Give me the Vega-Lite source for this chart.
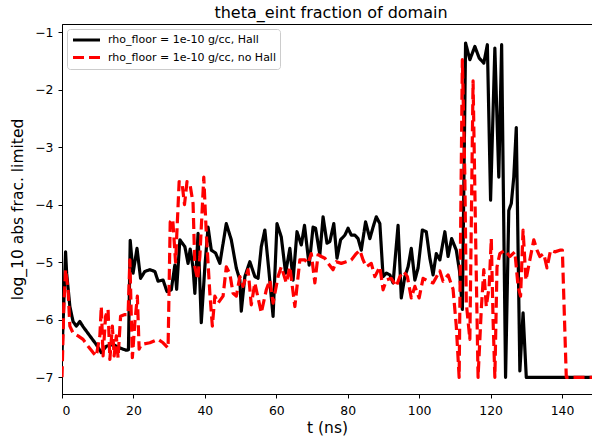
{
  "$schema": "https://vega.github.io/schema/vega-lite/v6.json",
  "width": 530,
  "height": 370,
  "autosize": {"type": "none"},
  "padding": {"left": 62, "top": 24, "right": 0, "bottom": 49},
  "background": "white",
  "config": {
    "font": "DejaVu Sans",
    "view": {"stroke": "black", "strokeWidth": 1},
    "axis": {"grid": false, "domainColor": "black", "tickColor": "black", "labelColor": "black", "titleColor": "black", "labelFontSize": 12.4, "titleFontSize": 15.5, "titleFontWeight": "normal", "tickSize": 4}
  },
  "title": {"text": "theta_eint fraction of domain", "fontSize": 16, "fontWeight": "normal", "color": "black", "anchor": "middle", "dx": 4, "baseline": "alphabetic", "offset": -10},
  "data": {"values": [
    {"t": 0, "v": -6.6, "s": "rho_floor = 1e-10 g/cc, Hall"},
    {"t": 1.0, "v": -4.82, "s": "rho_floor = 1e-10 g/cc, Hall"},
    {"t": 1.3, "v": -5.19, "s": "rho_floor = 1e-10 g/cc, Hall"},
    {"t": 2.2, "v": -5.77, "s": "rho_floor = 1e-10 g/cc, Hall"},
    {"t": 3.1, "v": -6.03, "s": "rho_floor = 1e-10 g/cc, Hall"},
    {"t": 4.0, "v": -6.11, "s": "rho_floor = 1e-10 g/cc, Hall"},
    {"t": 5.0, "v": -6.03, "s": "rho_floor = 1e-10 g/cc, Hall"},
    {"t": 5.9, "v": -6.12, "s": "rho_floor = 1e-10 g/cc, Hall"},
    {"t": 7.8, "v": -6.28, "s": "rho_floor = 1e-10 g/cc, Hall"},
    {"t": 9.6, "v": -6.43, "s": "rho_floor = 1e-10 g/cc, Hall"},
    {"t": 11.0, "v": -6.57, "s": "rho_floor = 1e-10 g/cc, Hall"},
    {"t": 12.4, "v": -6.46, "s": "rho_floor = 1e-10 g/cc, Hall"},
    {"t": 14.3, "v": -6.43, "s": "rho_floor = 1e-10 g/cc, Hall"},
    {"t": 16.2, "v": -6.49, "s": "rho_floor = 1e-10 g/cc, Hall"},
    {"t": 18.0, "v": -6.53, "s": "rho_floor = 1e-10 g/cc, Hall"},
    {"t": 18.6, "v": -6.52, "s": "rho_floor = 1e-10 g/cc, Hall"},
    {"t": 19.1, "v": -4.62, "s": "rho_floor = 1e-10 g/cc, Hall"},
    {"t": 19.9, "v": -5.19, "s": "rho_floor = 1e-10 g/cc, Hall"},
    {"t": 21.0, "v": -4.76, "s": "rho_floor = 1e-10 g/cc, Hall"},
    {"t": 22.0, "v": -5.28, "s": "rho_floor = 1e-10 g/cc, Hall"},
    {"t": 23.2, "v": -5.16, "s": "rho_floor = 1e-10 g/cc, Hall"},
    {"t": 24.6, "v": -5.13, "s": "rho_floor = 1e-10 g/cc, Hall"},
    {"t": 26.0, "v": -5.16, "s": "rho_floor = 1e-10 g/cc, Hall"},
    {"t": 26.9, "v": -5.33, "s": "rho_floor = 1e-10 g/cc, Hall"},
    {"t": 28.3, "v": -5.31, "s": "rho_floor = 1e-10 g/cc, Hall"},
    {"t": 29.4, "v": -5.51, "s": "rho_floor = 1e-10 g/cc, Hall"},
    {"t": 30.6, "v": -5.48, "s": "rho_floor = 1e-10 g/cc, Hall"},
    {"t": 31.6, "v": -5.05, "s": "rho_floor = 1e-10 g/cc, Hall"},
    {"t": 32.1, "v": -5.47, "s": "rho_floor = 1e-10 g/cc, Hall"},
    {"t": 33.0, "v": -4.61, "s": "rho_floor = 1e-10 g/cc, Hall"},
    {"t": 34.4, "v": -4.73, "s": "rho_floor = 1e-10 g/cc, Hall"},
    {"t": 35.3, "v": -5.02, "s": "rho_floor = 1e-10 g/cc, Hall"},
    {"t": 35.9, "v": -4.77, "s": "rho_floor = 1e-10 g/cc, Hall"},
    {"t": 36.7, "v": -5.1, "s": "rho_floor = 1e-10 g/cc, Hall"},
    {"t": 37.2, "v": -5.54, "s": "rho_floor = 1e-10 g/cc, Hall"},
    {"t": 38.1, "v": -4.5, "s": "rho_floor = 1e-10 g/cc, Hall"},
    {"t": 39.0, "v": -6.05, "s": "rho_floor = 1e-10 g/cc, Hall"},
    {"t": 40.0, "v": -5.08, "s": "rho_floor = 1e-10 g/cc, Hall"},
    {"t": 40.9, "v": -4.39, "s": "rho_floor = 1e-10 g/cc, Hall"},
    {"t": 41.8, "v": -4.79, "s": "rho_floor = 1e-10 g/cc, Hall"},
    {"t": 43.0, "v": -4.84, "s": "rho_floor = 1e-10 g/cc, Hall"},
    {"t": 44.2, "v": -5.02, "s": "rho_floor = 1e-10 g/cc, Hall"},
    {"t": 46.0, "v": -4.33, "s": "rho_floor = 1e-10 g/cc, Hall"},
    {"t": 47.4, "v": -4.61, "s": "rho_floor = 1e-10 g/cc, Hall"},
    {"t": 48.8, "v": -5.1, "s": "rho_floor = 1e-10 g/cc, Hall"},
    {"t": 49.8, "v": -5.31, "s": "rho_floor = 1e-10 g/cc, Hall"},
    {"t": 50.2, "v": -5.85, "s": "rho_floor = 1e-10 g/cc, Hall"},
    {"t": 51.2, "v": -5.25, "s": "rho_floor = 1e-10 g/cc, Hall"},
    {"t": 52.6, "v": -4.99, "s": "rho_floor = 1e-10 g/cc, Hall"},
    {"t": 54.0, "v": -5.25, "s": "rho_floor = 1e-10 g/cc, Hall"},
    {"t": 54.9, "v": -5.28, "s": "rho_floor = 1e-10 g/cc, Hall"},
    {"t": 55.8, "v": -4.73, "s": "rho_floor = 1e-10 g/cc, Hall"},
    {"t": 56.8, "v": -4.44, "s": "rho_floor = 1e-10 g/cc, Hall"},
    {"t": 57.9, "v": -5.13, "s": "rho_floor = 1e-10 g/cc, Hall"},
    {"t": 59.1, "v": -5.94, "s": "rho_floor = 1e-10 g/cc, Hall"},
    {"t": 60.2, "v": -4.33, "s": "rho_floor = 1e-10 g/cc, Hall"},
    {"t": 61.4, "v": -4.56, "s": "rho_floor = 1e-10 g/cc, Hall"},
    {"t": 62.6, "v": -5.19, "s": "rho_floor = 1e-10 g/cc, Hall"},
    {"t": 63.8, "v": -4.76, "s": "rho_floor = 1e-10 g/cc, Hall"},
    {"t": 64.7, "v": -5.31, "s": "rho_floor = 1e-10 g/cc, Hall"},
    {"t": 65.8, "v": -4.47, "s": "rho_floor = 1e-10 g/cc, Hall"},
    {"t": 67.0, "v": -4.7, "s": "rho_floor = 1e-10 g/cc, Hall"},
    {"t": 67.9, "v": -4.36, "s": "rho_floor = 1e-10 g/cc, Hall"},
    {"t": 69.2, "v": -5.05, "s": "rho_floor = 1e-10 g/cc, Hall"},
    {"t": 70.3, "v": -4.39, "s": "rho_floor = 1e-10 g/cc, Hall"},
    {"t": 71.0, "v": -4.41, "s": "rho_floor = 1e-10 g/cc, Hall"},
    {"t": 72.2, "v": -4.87, "s": "rho_floor = 1e-10 g/cc, Hall"},
    {"t": 73.1, "v": -4.21, "s": "rho_floor = 1e-10 g/cc, Hall"},
    {"t": 74.2, "v": -4.67, "s": "rho_floor = 1e-10 g/cc, Hall"},
    {"t": 75.0, "v": -4.64, "s": "rho_floor = 1e-10 g/cc, Hall"},
    {"t": 76.1, "v": -4.33, "s": "rho_floor = 1e-10 g/cc, Hall"},
    {"t": 77.0, "v": -4.93, "s": "rho_floor = 1e-10 g/cc, Hall"},
    {"t": 78.0, "v": -4.61, "s": "rho_floor = 1e-10 g/cc, Hall"},
    {"t": 79.2, "v": -4.53, "s": "rho_floor = 1e-10 g/cc, Hall"},
    {"t": 80.1, "v": -4.41, "s": "rho_floor = 1e-10 g/cc, Hall"},
    {"t": 81.0, "v": -4.53, "s": "rho_floor = 1e-10 g/cc, Hall"},
    {"t": 82.0, "v": -4.53, "s": "rho_floor = 1e-10 g/cc, Hall"},
    {"t": 82.9, "v": -4.59, "s": "rho_floor = 1e-10 g/cc, Hall"},
    {"t": 83.8, "v": -4.79, "s": "rho_floor = 1e-10 g/cc, Hall"},
    {"t": 85.0, "v": -4.3, "s": "rho_floor = 1e-10 g/cc, Hall"},
    {"t": 86.2, "v": -4.59, "s": "rho_floor = 1e-10 g/cc, Hall"},
    {"t": 87.1, "v": -4.39, "s": "rho_floor = 1e-10 g/cc, Hall"},
    {"t": 88.0, "v": -4.21, "s": "rho_floor = 1e-10 g/cc, Hall"},
    {"t": 89.0, "v": -4.33, "s": "rho_floor = 1e-10 g/cc, Hall"},
    {"t": 89.9, "v": -5.25, "s": "rho_floor = 1e-10 g/cc, Hall"},
    {"t": 90.8, "v": -5.19, "s": "rho_floor = 1e-10 g/cc, Hall"},
    {"t": 91.8, "v": -5.22, "s": "rho_floor = 1e-10 g/cc, Hall"},
    {"t": 92.7, "v": -5.36, "s": "rho_floor = 1e-10 g/cc, Hall"},
    {"t": 94.1, "v": -4.36, "s": "rho_floor = 1e-10 g/cc, Hall"},
    {"t": 95.0, "v": -5.62, "s": "rho_floor = 1e-10 g/cc, Hall"},
    {"t": 96.0, "v": -5.25, "s": "rho_floor = 1e-10 g/cc, Hall"},
    {"t": 96.9, "v": -5.08, "s": "rho_floor = 1e-10 g/cc, Hall"},
    {"t": 97.8, "v": -4.76, "s": "rho_floor = 1e-10 g/cc, Hall"},
    {"t": 98.8, "v": -5.31, "s": "rho_floor = 1e-10 g/cc, Hall"},
    {"t": 99.7, "v": -5.1, "s": "rho_floor = 1e-10 g/cc, Hall"},
    {"t": 100.9, "v": -4.44, "s": "rho_floor = 1e-10 g/cc, Hall"},
    {"t": 102.0, "v": -4.47, "s": "rho_floor = 1e-10 g/cc, Hall"},
    {"t": 103.0, "v": -4.93, "s": "rho_floor = 1e-10 g/cc, Hall"},
    {"t": 103.9, "v": -5.22, "s": "rho_floor = 1e-10 g/cc, Hall"},
    {"t": 104.8, "v": -4.85, "s": "rho_floor = 1e-10 g/cc, Hall"},
    {"t": 105.8, "v": -4.96, "s": "rho_floor = 1e-10 g/cc, Hall"},
    {"t": 107.2, "v": -4.47, "s": "rho_floor = 1e-10 g/cc, Hall"},
    {"t": 108.1, "v": -4.9, "s": "rho_floor = 1e-10 g/cc, Hall"},
    {"t": 109.1, "v": -4.59, "s": "rho_floor = 1e-10 g/cc, Hall"},
    {"t": 110.4, "v": -4.79, "s": "rho_floor = 1e-10 g/cc, Hall"},
    {"t": 111.3, "v": -5.15, "s": "rho_floor = 1e-10 g/cc, Hall"},
    {"t": 112.1, "v": -5.82, "s": "rho_floor = 1e-10 g/cc, Hall"},
    {"t": 113.0, "v": -1.19, "s": "rho_floor = 1e-10 g/cc, Hall"},
    {"t": 114.2, "v": -1.48, "s": "rho_floor = 1e-10 g/cc, Hall"},
    {"t": 115.6, "v": -1.25, "s": "rho_floor = 1e-10 g/cc, Hall"},
    {"t": 116.8, "v": -1.45, "s": "rho_floor = 1e-10 g/cc, Hall"},
    {"t": 118.1, "v": -1.54, "s": "rho_floor = 1e-10 g/cc, Hall"},
    {"t": 119.1, "v": -1.22, "s": "rho_floor = 1e-10 g/cc, Hall"},
    {"t": 120.0, "v": -3.92, "s": "rho_floor = 1e-10 g/cc, Hall"},
    {"t": 121.2, "v": -1.28, "s": "rho_floor = 1e-10 g/cc, Hall"},
    {"t": 122.3, "v": -3.52, "s": "rho_floor = 1e-10 g/cc, Hall"},
    {"t": 123.1, "v": -1.22, "s": "rho_floor = 1e-10 g/cc, Hall"},
    {"t": 124.2, "v": -7.0, "s": "rho_floor = 1e-10 g/cc, Hall"},
    {"t": 125.1, "v": -4.1, "s": "rho_floor = 1e-10 g/cc, Hall"},
    {"t": 125.8, "v": -3.98, "s": "rho_floor = 1e-10 g/cc, Hall"},
    {"t": 126.5, "v": -3.52, "s": "rho_floor = 1e-10 g/cc, Hall"},
    {"t": 127.2, "v": -2.66, "s": "rho_floor = 1e-10 g/cc, Hall"},
    {"t": 128.2, "v": -6.89, "s": "rho_floor = 1e-10 g/cc, Hall"},
    {"t": 129.1, "v": -5.88, "s": "rho_floor = 1e-10 g/cc, Hall"},
    {"t": 130.0, "v": -7.0, "s": "rho_floor = 1e-10 g/cc, Hall"},
    {"t": 149, "v": -7.0, "s": "rho_floor = 1e-10 g/cc, Hall"},
    {"t": 0, "v": -7.0, "s": "rho_floor = 1e-10 g/cc, no Hall"},
    {"t": 0.5, "v": -5.77, "s": "rho_floor = 1e-10 g/cc, no Hall"},
    {"t": 1.0, "v": -5.13, "s": "rho_floor = 1e-10 g/cc, no Hall"},
    {"t": 1.7, "v": -5.48, "s": "rho_floor = 1e-10 g/cc, no Hall"},
    {"t": 2.2, "v": -6.11, "s": "rho_floor = 1e-10 g/cc, no Hall"},
    {"t": 3.1, "v": -6.23, "s": "rho_floor = 1e-10 g/cc, no Hall"},
    {"t": 4.5, "v": -6.28, "s": "rho_floor = 1e-10 g/cc, no Hall"},
    {"t": 5.9, "v": -6.34, "s": "rho_floor = 1e-10 g/cc, no Hall"},
    {"t": 7.3, "v": -6.46, "s": "rho_floor = 1e-10 g/cc, no Hall"},
    {"t": 8.7, "v": -6.57, "s": "rho_floor = 1e-10 g/cc, no Hall"},
    {"t": 9.6, "v": -6.63, "s": "rho_floor = 1e-10 g/cc, no Hall"},
    {"t": 10.6, "v": -6.28, "s": "rho_floor = 1e-10 g/cc, no Hall"},
    {"t": 11.0, "v": -5.77, "s": "rho_floor = 1e-10 g/cc, no Hall"},
    {"t": 11.5, "v": -6.63, "s": "rho_floor = 1e-10 g/cc, no Hall"},
    {"t": 12.2, "v": -5.94, "s": "rho_floor = 1e-10 g/cc, no Hall"},
    {"t": 12.9, "v": -5.82, "s": "rho_floor = 1e-10 g/cc, no Hall"},
    {"t": 13.4, "v": -6.69, "s": "rho_floor = 1e-10 g/cc, no Hall"},
    {"t": 14.1, "v": -6.11, "s": "rho_floor = 1e-10 g/cc, no Hall"},
    {"t": 14.6, "v": -6.63, "s": "rho_floor = 1e-10 g/cc, no Hall"},
    {"t": 15.2, "v": -6.28, "s": "rho_floor = 1e-10 g/cc, no Hall"},
    {"t": 15.7, "v": -6.66, "s": "rho_floor = 1e-10 g/cc, no Hall"},
    {"t": 16.4, "v": -5.94, "s": "rho_floor = 1e-10 g/cc, no Hall"},
    {"t": 17.6, "v": -5.91, "s": "rho_floor = 1e-10 g/cc, no Hall"},
    {"t": 18.5, "v": -5.91, "s": "rho_floor = 1e-10 g/cc, no Hall"},
    {"t": 19.0, "v": -4.96, "s": "rho_floor = 1e-10 g/cc, no Hall"},
    {"t": 19.7, "v": -6.66, "s": "rho_floor = 1e-10 g/cc, no Hall"},
    {"t": 20.4, "v": -6.05, "s": "rho_floor = 1e-10 g/cc, no Hall"},
    {"t": 21.1, "v": -5.59, "s": "rho_floor = 1e-10 g/cc, no Hall"},
    {"t": 21.6, "v": -6.51, "s": "rho_floor = 1e-10 g/cc, no Hall"},
    {"t": 22.2, "v": -6.43, "s": "rho_floor = 1e-10 g/cc, no Hall"},
    {"t": 24.6, "v": -6.4, "s": "rho_floor = 1e-10 g/cc, no Hall"},
    {"t": 26.9, "v": -6.34, "s": "rho_floor = 1e-10 g/cc, no Hall"},
    {"t": 28.3, "v": -6.4, "s": "rho_floor = 1e-10 g/cc, no Hall"},
    {"t": 29.7, "v": -6.49, "s": "rho_floor = 1e-10 g/cc, no Hall"},
    {"t": 30.3, "v": -4.3, "s": "rho_floor = 1e-10 g/cc, no Hall"},
    {"t": 31.0, "v": -4.25, "s": "rho_floor = 1e-10 g/cc, no Hall"},
    {"t": 31.8, "v": -5.0, "s": "rho_floor = 1e-10 g/cc, no Hall"},
    {"t": 32.8, "v": -3.6, "s": "rho_floor = 1e-10 g/cc, no Hall"},
    {"t": 33.6, "v": -3.62, "s": "rho_floor = 1e-10 g/cc, no Hall"},
    {"t": 34.3, "v": -4.0, "s": "rho_floor = 1e-10 g/cc, no Hall"},
    {"t": 35.0, "v": -3.6, "s": "rho_floor = 1e-10 g/cc, no Hall"},
    {"t": 35.8, "v": -3.63, "s": "rho_floor = 1e-10 g/cc, no Hall"},
    {"t": 36.7, "v": -3.98, "s": "rho_floor = 1e-10 g/cc, no Hall"},
    {"t": 37.2, "v": -5.08, "s": "rho_floor = 1e-10 g/cc, no Hall"},
    {"t": 38.0, "v": -5.3, "s": "rho_floor = 1e-10 g/cc, no Hall"},
    {"t": 38.6, "v": -4.9, "s": "rho_floor = 1e-10 g/cc, no Hall"},
    {"t": 39.7, "v": -3.52, "s": "rho_floor = 1e-10 g/cc, no Hall"},
    {"t": 40.4, "v": -4.5, "s": "rho_floor = 1e-10 g/cc, no Hall"},
    {"t": 41.4, "v": -5.54, "s": "rho_floor = 1e-10 g/cc, no Hall"},
    {"t": 42.1, "v": -6.11, "s": "rho_floor = 1e-10 g/cc, no Hall"},
    {"t": 42.8, "v": -5.59, "s": "rho_floor = 1e-10 g/cc, no Hall"},
    {"t": 43.7, "v": -5.71, "s": "rho_floor = 1e-10 g/cc, no Hall"},
    {"t": 45.1, "v": -5.59, "s": "rho_floor = 1e-10 g/cc, no Hall"},
    {"t": 46.0, "v": -5.08, "s": "rho_floor = 1e-10 g/cc, no Hall"},
    {"t": 47.0, "v": -5.2, "s": "rho_floor = 1e-10 g/cc, no Hall"},
    {"t": 47.9, "v": -5.54, "s": "rho_floor = 1e-10 g/cc, no Hall"},
    {"t": 48.8, "v": -5.59, "s": "rho_floor = 1e-10 g/cc, no Hall"},
    {"t": 49.8, "v": -5.25, "s": "rho_floor = 1e-10 g/cc, no Hall"},
    {"t": 50.7, "v": -5.42, "s": "rho_floor = 1e-10 g/cc, no Hall"},
    {"t": 52.1, "v": -5.13, "s": "rho_floor = 1e-10 g/cc, no Hall"},
    {"t": 53.0, "v": -5.74, "s": "rho_floor = 1e-10 g/cc, no Hall"},
    {"t": 54.0, "v": -5.36, "s": "rho_floor = 1e-10 g/cc, no Hall"},
    {"t": 55.8, "v": -5.88, "s": "rho_floor = 1e-10 g/cc, no Hall"},
    {"t": 57.2, "v": -5.48, "s": "rho_floor = 1e-10 g/cc, no Hall"},
    {"t": 58.2, "v": -5.31, "s": "rho_floor = 1e-10 g/cc, no Hall"},
    {"t": 59.1, "v": -5.71, "s": "rho_floor = 1e-10 g/cc, no Hall"},
    {"t": 60.5, "v": -5.25, "s": "rho_floor = 1e-10 g/cc, no Hall"},
    {"t": 61.4, "v": -5.08, "s": "rho_floor = 1e-10 g/cc, no Hall"},
    {"t": 62.8, "v": -5.36, "s": "rho_floor = 1e-10 g/cc, no Hall"},
    {"t": 63.8, "v": -5.08, "s": "rho_floor = 1e-10 g/cc, no Hall"},
    {"t": 65.2, "v": -5.77, "s": "rho_floor = 1e-10 g/cc, no Hall"},
    {"t": 66.6, "v": -4.96, "s": "rho_floor = 1e-10 g/cc, no Hall"},
    {"t": 68.0, "v": -4.96, "s": "rho_floor = 1e-10 g/cc, no Hall"},
    {"t": 68.9, "v": -5.02, "s": "rho_floor = 1e-10 g/cc, no Hall"},
    {"t": 69.8, "v": -4.85, "s": "rho_floor = 1e-10 g/cc, no Hall"},
    {"t": 70.8, "v": -5.36, "s": "rho_floor = 1e-10 g/cc, no Hall"},
    {"t": 71.7, "v": -4.87, "s": "rho_floor = 1e-10 g/cc, no Hall"},
    {"t": 72.6, "v": -4.9, "s": "rho_floor = 1e-10 g/cc, no Hall"},
    {"t": 73.6, "v": -4.93, "s": "rho_floor = 1e-10 g/cc, no Hall"},
    {"t": 74.5, "v": -5.02, "s": "rho_floor = 1e-10 g/cc, no Hall"},
    {"t": 75.9, "v": -5.13, "s": "rho_floor = 1e-10 g/cc, no Hall"},
    {"t": 76.8, "v": -4.99, "s": "rho_floor = 1e-10 g/cc, no Hall"},
    {"t": 78.2, "v": -5.02, "s": "rho_floor = 1e-10 g/cc, no Hall"},
    {"t": 79.6, "v": -4.99, "s": "rho_floor = 1e-10 g/cc, no Hall"},
    {"t": 81.0, "v": -4.96, "s": "rho_floor = 1e-10 g/cc, no Hall"},
    {"t": 82.4, "v": -4.85, "s": "rho_floor = 1e-10 g/cc, no Hall"},
    {"t": 83.4, "v": -4.79, "s": "rho_floor = 1e-10 g/cc, no Hall"},
    {"t": 84.3, "v": -4.96, "s": "rho_floor = 1e-10 g/cc, no Hall"},
    {"t": 85.2, "v": -5.08, "s": "rho_floor = 1e-10 g/cc, no Hall"},
    {"t": 86.6, "v": -5.02, "s": "rho_floor = 1e-10 g/cc, no Hall"},
    {"t": 87.6, "v": -5.25, "s": "rho_floor = 1e-10 g/cc, no Hall"},
    {"t": 89.0, "v": -5.08, "s": "rho_floor = 1e-10 g/cc, no Hall"},
    {"t": 89.9, "v": -5.48, "s": "rho_floor = 1e-10 g/cc, no Hall"},
    {"t": 90.8, "v": -5.31, "s": "rho_floor = 1e-10 g/cc, no Hall"},
    {"t": 92.2, "v": -5.28, "s": "rho_floor = 1e-10 g/cc, no Hall"},
    {"t": 93.6, "v": -5.42, "s": "rho_floor = 1e-10 g/cc, no Hall"},
    {"t": 94.6, "v": -5.25, "s": "rho_floor = 1e-10 g/cc, no Hall"},
    {"t": 95.7, "v": -5.16, "s": "rho_floor = 1e-10 g/cc, no Hall"},
    {"t": 96.7, "v": -5.25, "s": "rho_floor = 1e-10 g/cc, no Hall"},
    {"t": 97.8, "v": -5.62, "s": "rho_floor = 1e-10 g/cc, no Hall"},
    {"t": 98.8, "v": -5.42, "s": "rho_floor = 1e-10 g/cc, no Hall"},
    {"t": 100.0, "v": -5.62, "s": "rho_floor = 1e-10 g/cc, no Hall"},
    {"t": 101.1, "v": -5.28, "s": "rho_floor = 1e-10 g/cc, no Hall"},
    {"t": 102.5, "v": -5.33, "s": "rho_floor = 1e-10 g/cc, no Hall"},
    {"t": 103.9, "v": -5.36, "s": "rho_floor = 1e-10 g/cc, no Hall"},
    {"t": 105.8, "v": -5.15, "s": "rho_floor = 1e-10 g/cc, no Hall"},
    {"t": 106.7, "v": -5.33, "s": "rho_floor = 1e-10 g/cc, no Hall"},
    {"t": 108.1, "v": -5.22, "s": "rho_floor = 1e-10 g/cc, no Hall"},
    {"t": 109.5, "v": -5.47, "s": "rho_floor = 1e-10 g/cc, no Hall"},
    {"t": 110.4, "v": -6.11, "s": "rho_floor = 1e-10 g/cc, no Hall"},
    {"t": 111.2, "v": -7.0, "s": "rho_floor = 1e-10 g/cc, no Hall"},
    {"t": 112.1, "v": -1.48, "s": "rho_floor = 1e-10 g/cc, no Hall"},
    {"t": 112.8, "v": -3.52, "s": "rho_floor = 1e-10 g/cc, no Hall"},
    {"t": 113.2, "v": -5.71, "s": "rho_floor = 1e-10 g/cc, no Hall"},
    {"t": 114.2, "v": -6.34, "s": "rho_floor = 1e-10 g/cc, no Hall"},
    {"t": 115.1, "v": -1.85, "s": "rho_floor = 1e-10 g/cc, no Hall"},
    {"t": 115.8, "v": -4.5, "s": "rho_floor = 1e-10 g/cc, no Hall"},
    {"t": 116.5, "v": -7.0, "s": "rho_floor = 1e-10 g/cc, no Hall"},
    {"t": 117.4, "v": -5.82, "s": "rho_floor = 1e-10 g/cc, no Hall"},
    {"t": 118.1, "v": -5.13, "s": "rho_floor = 1e-10 g/cc, no Hall"},
    {"t": 118.8, "v": -5.77, "s": "rho_floor = 1e-10 g/cc, no Hall"},
    {"t": 119.6, "v": -5.42, "s": "rho_floor = 1e-10 g/cc, no Hall"},
    {"t": 120.2, "v": -4.59, "s": "rho_floor = 1e-10 g/cc, no Hall"},
    {"t": 120.7, "v": -6.0, "s": "rho_floor = 1e-10 g/cc, no Hall"},
    {"t": 121.2, "v": -7.0, "s": "rho_floor = 1e-10 g/cc, no Hall"},
    {"t": 121.8, "v": -5.08, "s": "rho_floor = 1e-10 g/cc, no Hall"},
    {"t": 122.6, "v": -4.85, "s": "rho_floor = 1e-10 g/cc, no Hall"},
    {"t": 124.0, "v": -4.79, "s": "rho_floor = 1e-10 g/cc, no Hall"},
    {"t": 125.4, "v": -4.9, "s": "rho_floor = 1e-10 g/cc, no Hall"},
    {"t": 126.8, "v": -4.82, "s": "rho_floor = 1e-10 g/cc, no Hall"},
    {"t": 127.7, "v": -5.42, "s": "rho_floor = 1e-10 g/cc, no Hall"},
    {"t": 128.4, "v": -5.59, "s": "rho_floor = 1e-10 g/cc, no Hall"},
    {"t": 129.1, "v": -4.44, "s": "rho_floor = 1e-10 g/cc, no Hall"},
    {"t": 129.9, "v": -5.31, "s": "rho_floor = 1e-10 g/cc, no Hall"},
    {"t": 131.0, "v": -4.96, "s": "rho_floor = 1e-10 g/cc, no Hall"},
    {"t": 132.1, "v": -4.61, "s": "rho_floor = 1e-10 g/cc, no Hall"},
    {"t": 133.0, "v": -4.79, "s": "rho_floor = 1e-10 g/cc, no Hall"},
    {"t": 133.8, "v": -4.9, "s": "rho_floor = 1e-10 g/cc, no Hall"},
    {"t": 134.9, "v": -4.85, "s": "rho_floor = 1e-10 g/cc, no Hall"},
    {"t": 135.8, "v": -5.1, "s": "rho_floor = 1e-10 g/cc, no Hall"},
    {"t": 136.8, "v": -4.79, "s": "rho_floor = 1e-10 g/cc, no Hall"},
    {"t": 138.0, "v": -4.82, "s": "rho_floor = 1e-10 g/cc, no Hall"},
    {"t": 139.4, "v": -4.79, "s": "rho_floor = 1e-10 g/cc, no Hall"},
    {"t": 140.1, "v": -4.79, "s": "rho_floor = 1e-10 g/cc, no Hall"},
    {"t": 141.2, "v": -7.0, "s": "rho_floor = 1e-10 g/cc, no Hall"},
    {"t": 149, "v": -7.0, "s": "rho_floor = 1e-10 g/cc, no Hall"}
  ]},
  "mark": {"type": "line", "strokeWidth": 3.2, "clip": true, "strokeJoin": "round"},
  "encoding": {
    "x": {"field": "t", "type": "quantitative", "title": "t (ns)",
      "scale": {"domain": [0, 148.4], "nice": false, "zero": false},
      "axis": {"values": [0, 20, 40, 60, 80, 100, 120, 140], "labelPadding": 6, "titlePadding": 4}},
    "y": {"field": "v", "type": "quantitative", "title": "log_10 abs frac. limited",
      "scale": {"domain": [-7.29, -0.86], "nice": false, "zero": false},
      "axis": {"values": [-7, -6, -5, -4, -3, -2, -1], "labelPadding": 5, "titlePadding": 9}},
    "color": {"field": "s", "type": "nominal",
      "scale": {"domain": ["rho_floor = 1e-10 g/cc, Hall", "rho_floor = 1e-10 g/cc, no Hall"], "range": ["#000000", "#ff0000"]},
      "legend": {"title": null, "orient": "top-left", "offset": 5, "fillColor": "white", "strokeColor": "#cccccc", "cornerRadius": 3, "padding": 4, "labelFontSize": 11, "labelLimit": 400, "labelColor": "black", "symbolType": "stroke", "symbolSize": 729, "symbolStrokeWidth": 3.2, "clipHeight": 14, "rowPadding": 3.5, "labelOffset": 6}},
    "strokeDash": {"field": "s", "type": "nominal",
      "scale": {"domain": ["rho_floor = 1e-10 g/cc, Hall", "rho_floor = 1e-10 g/cc, no Hall"], "range": [[1, 0], [11, 5]]},
      "legend": null}
  }
}
